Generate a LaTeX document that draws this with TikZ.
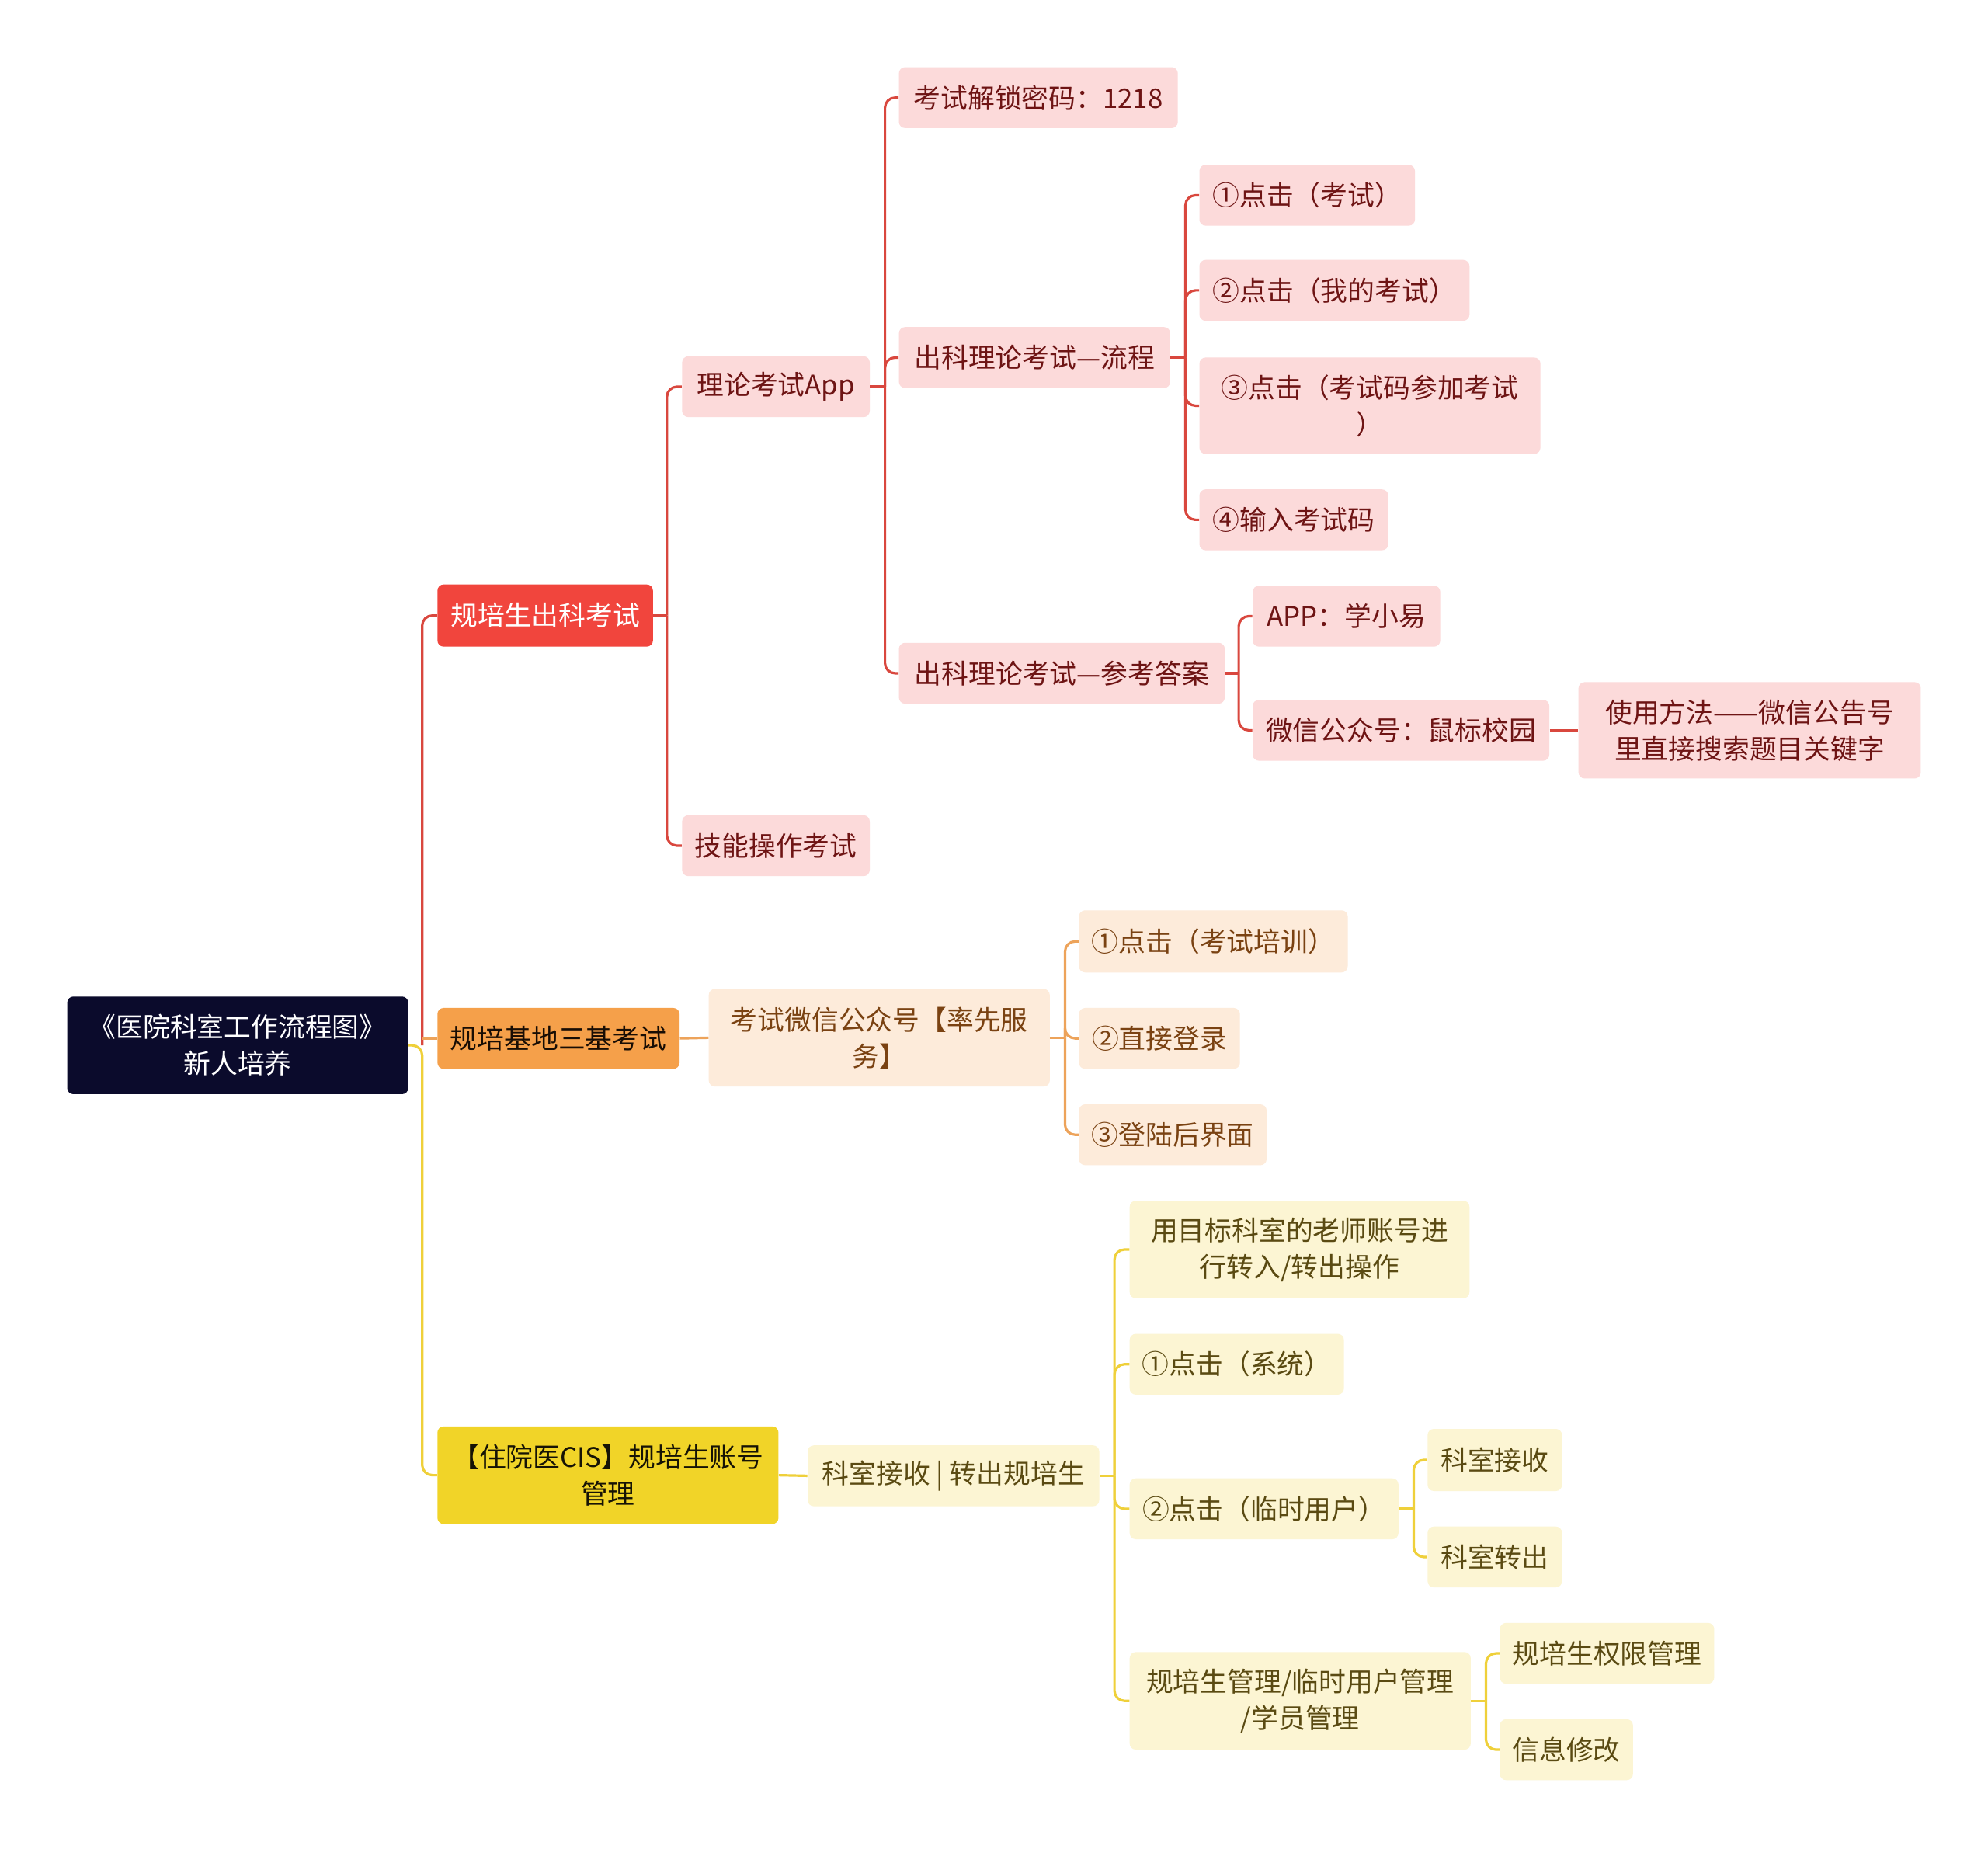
\documentclass[tikz,border=0pt]{standalone}
\usepackage{fontspec}
\setmainfont{Noto Sans CJK SC}
\definecolor{rootc}{HTML}{0B0B2C}
\definecolor{redc}{HTML}{F1453D}
\definecolor{orgc}{HTML}{F5A04A}
\definecolor{yelc}{HTML}{F1D428}
\definecolor{redf}{HTML}{FCDADA}
\definecolor{orgf}{HTML}{FDEBDA}
\definecolor{yelf}{HTML}{FCF5D3}
\definecolor{redt}{HTML}{6E1414}
\definecolor{orgt}{HTML}{7A4212}
\definecolor{yelt}{HTML}{5A4A12}
\definecolor{redl}{HTML}{D9473E}
\definecolor{orgl}{HTML}{EDA35A}
\definecolor{yell}{HTML}{EFD03A}
\newcommand\nd[7]{\node[#2, minimum width=#5*0.8163pt, minimum height=#6*0.8163pt] (#1) at (#3,#4) {#7};}
\tikzset{
  base/.style={rectangle, rounded corners=4pt, inner sep=0pt, align=center, font=\fontsize{17.4pt}{23.5pt}\selectfont},
  rootbox/.style={base, fill=rootc, text=white},
  redbox/.style={base, fill=redc, text=white},
  orgbox/.style={base, fill=orgc, text=black!80!orgt},
  yelbox/.style={base, fill=yelc, text=black!75!yelt},
  redsub/.style={base, fill=redf, text=redt},
  orgsub/.style={base, fill=orgf, text=orgt},
  yelsub/.style={base, fill=yelf, text=yelt},
  ln/.style={line width=1.6pt, rounded corners=6.5pt},
  rl/.style={ln, draw=redl},
  ol/.style={ln, draw=orgl},
  yl/.style={ln, draw=yell}
}
\begin{document}
\begin{tikzpicture}[x=0.8163pt, y=-0.8163pt]
\fill[white] (0,0) rectangle (1568,1458);
% nodes
\nd{root}{rootbox}{187.5}{824.5}{269}{77}{《医院科室工作流程图》\\新人培养}
\nd{a}{redbox}{430}{485.5}{170}{49}{规培生出科考试}
\nd{b}{orgbox}{440.5}{819}{191}{48}{规培基地三基考试}
\nd{c}{yelbox}{479.5}{1163.5}{269}{77}{【住院医CIS】规培生账号\\管理}
\nd{a1}{redsub}{612}{305}{148}{48}{理论考试App}
\nd{a2}{redsub}{612}{667}{148}{48}{技能操作考试}
\nd{a11}{redsub}{819}{77}{220}{48}{考试解锁密码：1218}
\nd{a12}{redsub}{816}{282}{214}{48}{出科理论考试—流程}
\nd{a13}{redsub}{837.5}{531}{257}{48}{出科理论考试—参考答案}
\nd{a121}{redsub}{1031}{154}{170}{48}{①点击（考试）}
\nd{a122}{redsub}{1052.5}{229}{213}{48}{②点击（我的考试）}
\nd{a123}{redsub}{1080.5}{320}{269}{76}{③点击（考试码参加考试\\）}
\nd{a124}{redsub}{1020.5}{410}{149}{48}{④输入考试码}
\nd{a131}{redsub}{1062}{486}{148}{48}{APP：学小易}
\nd{a132}{redsub}{1105}{576}{234}{48}{微信公众号：鼠标校园}
\nd{a1321}{redsub}{1380}{576}{270}{76}{使用方法——微信公告号\\里直接搜索题目关键字}
\nd{b1}{orgsub}{693.5}{818.5}{269}{77}{考试微信公众号【率先服\\务】}
\nd{b11}{orgsub}{957}{742.5}{212}{49}{①点击（考试培训）}
\nd{b12}{orgsub}{914.5}{819}{127}{48}{②直接登录}
\nd{b13}{orgsub}{925}{895}{148}{48}{③登陆后界面}
\nd{c1}{yelsub}{752}{1164}{230}{48}{科室接收 | 转出规培生}
\nd{c11}{yelsub}{1025}{985.5}{268}{77}{用目标科室的老师账号进\\行转入/转出操作}
\nd{c12}{yelsub}{975.5}{1076}{169}{48}{①点击（系统）}
\nd{c13}{yelsub}{997}{1190}{212}{48}{②点击（临时用户）}
\nd{c131}{yelsub}{1179}{1151.5}{106}{49}{科室接收}
\nd{c132}{yelsub}{1179}{1228}{106}{48}{科室转出}
\nd{c14}{yelsub}{1025.5}{1341.5}{269}{77}{规培生管理/临时用户管理\\/学员管理}
\nd{c141}{yelsub}{1267.5}{1304}{169}{48}{规培生权限管理}
\nd{c142}{yelsub}{1235.5}{1380}{105}{48}{信息修改}
% junctions
\coordinate (j0) at (333,824.5);
\coordinate (jb) at (333,819);
\coordinate (ja) at (526,485.5);
\coordinate (ja1) at (698,305);
\coordinate (ja12) at (935,282);
\coordinate (ja13) at (977,531);
\coordinate (jb1) at (840,818.5);
\coordinate (jc1) at (879,1164);
\coordinate (jc13) at (1115,1190);
\coordinate (jc14) at (1172,1341.5);
% root connectors
\draw[yl] (root.east) -- (j0) |- (c.west);
\draw[rl] (j0) |- (a.west);
\draw[ol] (jb) -- (b.west);
% red branch
\draw[rl] (a.east) -- (ja);
\draw[rl] (ja) |- (a1.west);
\draw[rl] (ja) |- (a2.west);
\draw[rl] (a1.east) -- (ja1);
\draw[rl] (ja1) |- (a11.west);
\draw[rl] (ja1) |- (a12.west);
\draw[rl] (ja1) |- (a13.west);
\draw[rl] (a12.east) -- (ja12);
\draw[rl] (ja12) |- (a121.west);
\draw[rl] (ja12) |- (a122.west);
\draw[rl] (ja12) |- (a123.west);
\draw[rl] (ja12) |- (a124.west);
\draw[rl] (a13.east) -- (ja13);
\draw[rl] (ja13) |- (a131.west);
\draw[rl] (ja13) |- (a132.west);
\draw[rl] (a132.east) -- (a1321.west);
% orange branch
\draw[ol] (b.east) -- (b1.west);
\draw[ol] (b1.east) -- (jb1);
\draw[ol] (jb1) |- (b11.west);
\draw[ol] (jb1) |- (b12.west);
\draw[ol] (jb1) |- (b13.west);
% yellow branch
\draw[yl] (c.east) -- (c1.west);
\draw[yl] (c1.east) -- (jc1);
\draw[yl] (jc1) |- (c11.west);
\draw[yl] (jc1) |- (c12.west);
\draw[yl] (jc1) |- (c13.west);
\draw[yl] (jc1) |- (c14.west);
\draw[yl] (c13.east) -- (jc13);
\draw[yl] (jc13) |- (c131.west);
\draw[yl] (jc13) |- (c132.west);
\draw[yl] (c14.east) -- (jc14);
\draw[yl] (jc14) |- (c141.west);
\draw[yl] (jc14) |- (c142.west);
\end{tikzpicture}
\end{document}
